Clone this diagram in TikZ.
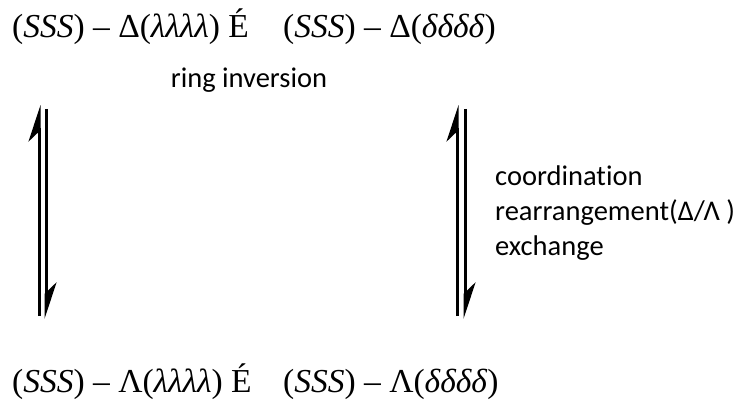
\documentclass[tikz,border=0pt]{standalone}
\usepackage{fontspec}
\setmainfont{Liberation Serif}
\newfontfamily\labelfont[Ligatures={NoCommon}]{Carlito}
\usetikzlibrary{arrows.meta}

\begin{document}
\begin{tikzpicture}[x=1pt,y=-1pt,
  formula/.style={inner sep=0pt, anchor=base west, font=\fontsize{33.5}{38}\selectfont},
  caption/.style={inner sep=0pt, anchor=base west, font=\labelfont\fontsize{28.5}{34}\selectfont},
  harp/.style={line width=3pt, -{Stealth[left,length=32pt,width=21pt,inset=10pt]}}
]
\useasboundingbox (0,0) rectangle (744,403);

% equilibrium species
\node[formula] (tl) at (12,38) {(\textit{SSS}) – Δ(\textit{λλλλ}) É};
\node[formula] (tr) at (283,38) {(\textit{SSS}) – Δ(\textit{δδδδ})};
\node[formula] (bl) at (12,392) {(\textit{SSS}) – Λ(\textit{λλλλ}) É};
\node[formula] (br) at (283,392) {(\textit{SSS}) – Λ(\textit{δδδδ})};

% process labels
\node[caption, anchor=center] (ring) at (249,80) {ring inversion};
\node[caption] (c1) at (495,186) {coordination};
\node[caption] (c2) at (495,221) {rearrangement(Δ/Λ )};
\node[caption] (c3) at (495,256) {exchange};

% arrow end points
\coordinate (a1) at (39,316);
\coordinate (a2) at (39,105);
\coordinate (b1) at (46,109);
\coordinate (b2) at (46,319);
\coordinate (c1s) at (457,316);
\coordinate (c1e) at (457,105);
\coordinate (d1) at (465,109);
\coordinate (d2) at (465,319);

% equilibrium harpoons
\draw[harp] (a1) -- (a2);
\draw[harp] (b1) -- (b2);
\draw[harp] (c1s) -- (c1e);
\draw[harp] (d1) -- (d2);
\end{tikzpicture}
\end{document}
